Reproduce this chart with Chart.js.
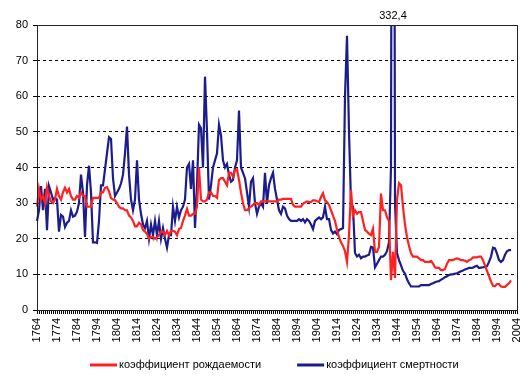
<!DOCTYPE html>
<html>
<head>
<meta charset="utf-8">
<script src="https://cdn.jsdelivr.net/npm/chart.js@4.4.0/dist/chart.umd.min.js"></script>
<style>
  html, body { margin: 0; padding: 0; background: #fff; }
</style>
</head>
<body>
<canvas id="chart" width="532" height="382"></canvas>
<script>
// years on the category axis, one per point
const years = [];
for (let y = 1764; y <= 2004; y++) years.push(String(y));

// births per 1000 (red line)
const birthRate = [
  29, 34, 31, 32, 30, 34.5, 32, 30.5, 30, 31,          // 1764
  34, 32, 31, 33, 34.3, 33, 34, 32, 31, 31,            // 1774
  32, 31.5, 33, 32, 32, 29, 29, 29, 31.5, 31.5,        // 1784
  31.5, 31.4, 33, 33, 34.3, 34.5, 33.3, 31.4, 31, 30.8, // 1794
  30, 29, 28.5, 28.5, 28, 28, 26.5, 26, 25, 23.5,      // 1804
  23.5, 24.5, 24, 22.5, 22, 21.3, 20, 20.5, 20.5, 20,  // 1814
  20.5, 21, 22, 22, 21, 22.2, 21, 22.2, 22.2, 22,      // 1824
  21, 22.7, 23, 25, 26.5, 28.4, 26.5, 26.5, 27, 27,    // 1834
  29, 40, 31, 30.5, 30.5, 31, 33, 33, 32, 32,          // 1844
  31.5, 36.5, 37, 37, 36, 35, 38.5, 38.5, 37.5, 39.3,  // 1854
  39.5, 36.5, 33, 30, 28, 28, 28.6, 29, 29.5, 30,      // 1864
  30, 29.5, 30.5, 30.5, 30.5, 30.5, 30.5, 30.5, 30.5, 30.5, // 1874
  30.5, 31, 31, 31.2, 31.2, 31.2, 31.2, 31.2, 29.5, 29, // 1884
  29, 29, 29, 29.8, 30.2, 30.5, 30.3, 30.3, 30.8, 30.8, // 1894
  30.5, 30.3, 31.7, 32.8, 30.8, 30.3, 29.5, 28, 26.5, 25, // 1904
  22.5, 20.5, 19, 18, 16.5, 13.5, 21, 33.7, 26.5, 28,  // 1914
  27, 27.5, 27.5, 25, 22.5, 22, 21.4, 21, 22.8, 16.3,  // 1924
  16.3, 17.7, 32.7, 28, 28, 26, 25, 8.4, 16.3, 9,      // 1934
  31, 35.6, 35, 29, 24, 20.5, 18, 16, 15, 15,          // 1944
  15, 14.5, 14, 14, 13.5, 13.5, 13.5, 13.8, 13, 12,    // 1954
  11.8, 11.8, 11.2, 11.2, 11.5, 13, 14, 14, 14, 14.3,  // 1964
  14.5, 14.3, 14, 14, 13.8, 13.5, 14, 14.2, 14.8, 14.8, // 1974
  14.8, 15, 15, 14, 12.5, 11, 9.5, 8, 6.8, 6.7,        // 1984
  7.3, 7.3, 6.6, 6.5, 6.5, 7, 7.5, 8.3, null, null,    // 1994
  null                                                 // 2004
];

// deaths per 1000 (blue line)
const deathRate = [
  25, 28, 34.8, 28, 34, 22.4, 34.8, 33, 31, 31.4,      // 1764
  31, 22, 26.7, 26.2, 23.3, 24.5, 25, 28, 26.2, 26.5,  // 1774
  27.6, 30, 38, 33, 20.5, 35, 40.5, 33, 19, 19,        // 1784
  18.8, 25, 35, 35, 39.5, 44, 48.5, 48, 37, 32,        // 1794
  33, 34, 35.5, 38, 44, 51.5, 38, 31, 28, 31,          // 1804
  42, 31, 27, 24, 23, 25, 20, 24, 21, 25,              // 1814
  21, 25, 20, 23, 20, 17.5, 21, 21, 29, 25,            // 1824
  29, 26, 28, 29, 31, 40, 41, 34, 42, 23,              // 1834
  35, 52, 51, 40, 65.5, 50, 31, 35, 40, 42,            // 1844
  44, 52, 49, 42, 40, 41, 38, 36, 36.5, 40,            // 1854
  42, 56, 40, 38.5, 37, 33, 29, 36, 37, 30,            // 1864
  27, 29, 30, 29, 38.5, 30, 35, 37, 38.5, 34,          // 1874
  31, 28, 27, 29, 28.5, 26.5, 25.5, 25, 25, 25,        // 1884
  25, 25.5, 25, 25.5, 24.6, 25.5, 25, 24, 22.7, 25,    // 1894
  25.5, 26, 25.5, 26, 29, 25.5, 25.5, 22.5, 21.5, 22,  // 1904
  21.3, 22.5, 22.7, 23, 60, 77, 50, 30, 29, 16,        // 1914
  15, 15.5, 14.5, 15, 15, 15.3, 15.5, 17.7, 17.5, 12,  // 1924
  13, 14, 15, 15, 15.5, 16.5, 19, 40, 332.4, 30,       // 1934
  16, 14, 12.5, 11, 10.2, 8.6, 7.5, 6.6, 6.6, 6.6,     // 1944
  6.6, 6.6, 7, 7, 7, 7, 7, 7.3, 7.5, 7.8,              // 1954
  8, 8.1, 8.5, 8.8, 9.2, 9.5, 9.8, 10, 10, 10.2,       // 1964
  10.3, 10.6, 10.9, 11.1, 11.4, 11.6, 11.8, 11.8, 11.9, 12.2, // 1974
  12.4, 11.8, 11.9, 12, 12.1, 12.3, 13.5, 15, 17.5, 17.3, // 1984
  15.8, 14, 13.5, 14, 15.5, 16.5, 16.8, 16.8, null, null, // 1994
  null                                                 // 2004
];

const seriesLabels = ['коэффициент рождаемости', 'коэффициент смертности'];
const seriesColors = ['#ff2121', '#1c1c8c'];
const yTicks = [0, 10, 20, 30, 40, 50, 60, 70, 80];
const labelEvery = 10; // a year label every 10 years, from 1764

const FONT = '"Liberation Sans", Arial, sans-serif';

// frame, off-scale peak value and legend
const decorations = {
  id: 'decorations',
  afterDraw(chart) {
    const {ctx, chartArea: a, scales} = chart;
    ctx.save();
    ctx.strokeStyle = '#222';
    ctx.lineWidth = 1;
    ctx.strokeRect(Math.round(a.left) + 0.5, Math.round(a.top) + 0.5,
      Math.round(a.right - a.left), Math.round(a.bottom - a.top));

    ctx.font = '11px ' + FONT;
    ctx.fillStyle = '#000';
    ctx.textBaseline = 'middle';

    const peak = Math.max(...deathRate.filter(v => v != null));
    if (peak > scales.y.max) {
      const i = deathRate.indexOf(peak);
      ctx.textAlign = 'center';
      ctx.fillText(String(peak).replace('.', ','), scales.x.getPixelForValue(i), a.top - 9);
    }

    let lx = 90;
    const ly = 365;
    chart.data.datasets.forEach(ds => {
      ctx.strokeStyle = ds.borderColor;
      ctx.lineWidth = 3;
      ctx.beginPath();
      ctx.moveTo(lx, ly);
      ctx.lineTo(lx + 27, ly);
      ctx.stroke();
      ctx.textAlign = 'left';
      ctx.fillStyle = '#000';
      ctx.fillText(ds.label, lx + 29, ly);
      lx += 29 + ctx.measureText(ds.label).width + 36;
    });
    ctx.restore();
  }
};

new Chart(document.getElementById('chart'), {
  type: 'line',
  data: {
    labels: years,
    datasets: [
      {label: seriesLabels[0], data: birthRate, borderColor: seriesColors[0], borderWidth: 2.2},
      {label: seriesLabels[1], data: deathRate, borderColor: seriesColors[1], borderWidth: 2.2},
    ],
  },
  options: {
    responsive: false,
    animation: false,
    layout: {padding: {top: 25, right: 15, left: 0, bottom: 0}},
    elements: {point: {radius: 0}, line: {tension: 0, fill: false}},
    plugins: {legend: {display: false}, tooltip: {enabled: false}},
    scales: {
      x: {
        grid: {drawOnChartArea: false, drawTicks: true, tickLength: 4, tickColor: '#000'},
        border: {display: false},
        ticks: {
          autoSkip: false, minRotation: 90, maxRotation: 90, padding: 4,
          color: '#000', font: {family: FONT, size: 11},
          callback: (v, i) => (i % labelEvery === 0 ? years[i] : ''),
        },
        afterFit: s => { s.height = 72; s.paddingLeft = 0; s.paddingRight = 0; },
      },
      y: {
        min: yTicks[0], max: yTicks[yTicks.length - 1],
        afterBuildTicks: s => { s.ticks = yTicks.map(v => ({value: v})); },
        grid: {
          color: c => (c.tick && (c.tick.value === 0 || c.tick.value === 80) ? 'rgba(0,0,0,0)' : '#000'),
          tickColor: '#000', tickLength: 4, lineWidth: 1,
        },
        border: {display: false, dash: [3, 3]},
        ticks: {padding: 5, color: '#000', font: {family: FONT, size: 11}},
        afterFit: s => { s.width = 37; },
      },
    },
  },
  plugins: [decorations],
});
</script>
</body>
</html>
